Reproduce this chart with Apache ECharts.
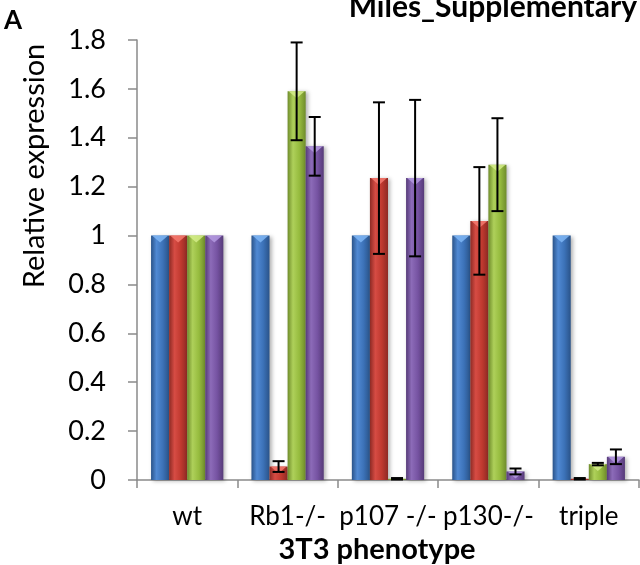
<!DOCTYPE html>
<html>
<head>
<meta charset="utf-8">
<script src="https://cdn.jsdelivr.net/npm/echarts@6/dist/echarts.min.js"></script>
<style>
  html, body { margin: 0; padding: 0; background: #fff; }
  #chart { width: 640px; height: 565px; }
</style>
</head>
<body>
<div id="chart"></div>
<script>
// categories on the x axis
const categories = ["wt", "Rb1-/-", "p107 -/-", "p130-/-", "triple"];

// bar heights, one array per coloured series
const blueValues = [1, 1, 1, 1, 1];
const redValues = [1, 0.055, 1.235, 1.06, 0.005];
const greenValues = [1, 1.59, 0.005, 1.29, 0.065];
const purpleValues = [1, 1.365, 1.235, 0.035, 0.095];

// error bar half-lengths
const blueErrors = [0, 0, 0, 0, 0];
const redErrors = [0, 0.022, 0.31, 0.22, 0.003];
const greenErrors = [0, 0.2, 0.003, 0.19, 0.005];
const purpleErrors = [0, 0.12, 0.32, 0.012, 0.03];

const yTicks = [0, 0.2, 0.4, 0.6, 0.8, 1, 1.2, 1.4, 1.6, 1.8];

const FONT = "Lato";

// colours: [dark edge, light, mid, top highlight]
const palette = [
  ["#2a5389", "#5089d3", "#3c72b8", "#7fb6f5"],
  ["#8e2a24", "#d64c44", "#c0392f", "#f57a70"],
  ["#6f8c2b", "#aed05a", "#96bb3e", "#d4ec8a"],
  ["#563b78", "#8c6bb8", "#7653a2", "#b49ae0"]
];

const allValues = [blueValues, redValues, greenValues, purpleValues];
const allErrors = [blueErrors, redErrors, greenErrors, purpleErrors];

function makeRender(idx) {
  const c = palette[idx];
  return function (params, api) {
    const ci = api.value(0);
    const v = api.value(1);
    const e = api.value(2);
    const base = api.coord([ci, 0]);
    const top = api.coord([ci, v]);
    const band = api.size([1, 0])[0];
    const bw = band * 0.72 / 4;
    const x0 = base[0] - band * 0.36 + idx * bw;
    const h = base[1] - top[1];
    const children = [];
    children.push({
      type: "rect",
      shape: { x: x0, y: top[1], width: bw, height: h },
      style: {
        fill: new echarts.graphic.LinearGradient(0, 0, 1, 0, [
          { offset: 0, color: c[0] },
          { offset: 0.3, color: c[1] },
          { offset: 0.65, color: c[2] },
          { offset: 1, color: c[0] }
        ]),
        shadowBlur: 4,
        shadowOffsetX: 2,
        shadowOffsetY: 1,
        shadowColor: "rgba(0,0,0,0.3)"
      }
    });
    const th = Math.min(7, h);
    children.push({
      type: "polygon",
      shape: {
        points: [[x0 + 1, top[1]], [x0 + bw - 1, top[1]], [x0 + bw / 2, top[1] + th]]
      },
      style: { fill: c[3], opacity: 0.85 }
    });
    if (e > 0) {
      const hi = api.coord([ci, v + e]);
      const lo = api.coord([ci, v - e]);
      const xm = x0 + bw / 2;
      const cap = 6;
      const st = { stroke: "#000", lineWidth: 2 };
      children.push({ type: "line", shape: { x1: xm, y1: hi[1], x2: xm, y2: lo[1] }, style: st });
      children.push({ type: "line", shape: { x1: xm - cap, y1: hi[1], x2: xm + cap, y2: hi[1] }, style: st });
      children.push({ type: "line", shape: { x1: xm - cap, y1: lo[1], x2: xm + cap, y2: lo[1] }, style: st });
    }
    return { type: "group", children: children };
  };
}

const series = allValues.map(function (vals, idx) {
  return {
    type: "custom",
    renderItem: makeRender(idx),
    encode: { x: 0, y: 1 },
    data: vals.map(function (v, i) { return [i, v, allErrors[idx][i]]; }),
    clip: false,
    z: 2 + idx
  };
});

const chart = echarts.init(document.getElementById("chart"), null, { renderer: "canvas" });
chart.setOption({
  animation: false,
  backgroundColor: "#fff",
  textStyle: { fontFamily: FONT },
  grid: { left: 137, right: 1, top: 40, bottom: 85, containLabel: false, outerBoundsMode: "none" },
  xAxis: {
    type: "category",
    data: categories,
    boundaryGap: true,
    axisLine: { lineStyle: { color: "#8a8a8a", width: 1.5 } },
    axisTick: { show: true, alignWithLabel: false, length: 8, lineStyle: { color: "#8a8a8a", width: 1.5 } },
    axisLabel: { color: "#000", fontSize: 26, fontFamily: FONT, margin: 24, interval: 0 },
    name: "3T3 phenotype",
    nameLocation: "middle",
    nameGap: 55,
    nameTextStyle: { color: "#000", fontSize: 29, fontWeight: "bold", fontFamily: FONT, padding: [0, 22, 0, 0] }
  },
  yAxis: {
    type: "value",
    min: yTicks[0],
    max: yTicks[yTicks.length - 1],
    interval: 0.2,
    axisLine: { show: true, lineStyle: { color: "#8a8a8a", width: 1.5 } },
    axisTick: { show: true, length: 9, lineStyle: { color: "#8a8a8a", width: 1.5 } },
    splitLine: { show: false },
    axisLabel: { color: "#000", fontSize: 27, fontFamily: FONT, margin: 31 }
  },
  graphic: [
    {
      type: "text",
      left: 4,
      top: 8,
      style: { text: "A", font: "bold 26px " + FONT, fill: "#000" }
    },
    {
      type: "text",
      x: 637,
      y: 22,
      style: {
        text: "Miles_Supplementary",
        font: "bold 30px " + FONT,
        fill: "#000",
        textAlign: "right",
        textVerticalAlign: "bottom"
      }
    },
    {
      type: "text",
      x: 35,
      y: 166,
      rotation: Math.PI / 2,
      style: {
        text: "Relative expression",
        font: "29px " + FONT,
        fill: "#000",
        textAlign: "center",
        textVerticalAlign: "middle"
      }
    }
  ],
  series: series
});
</script>
</body>
</html>
